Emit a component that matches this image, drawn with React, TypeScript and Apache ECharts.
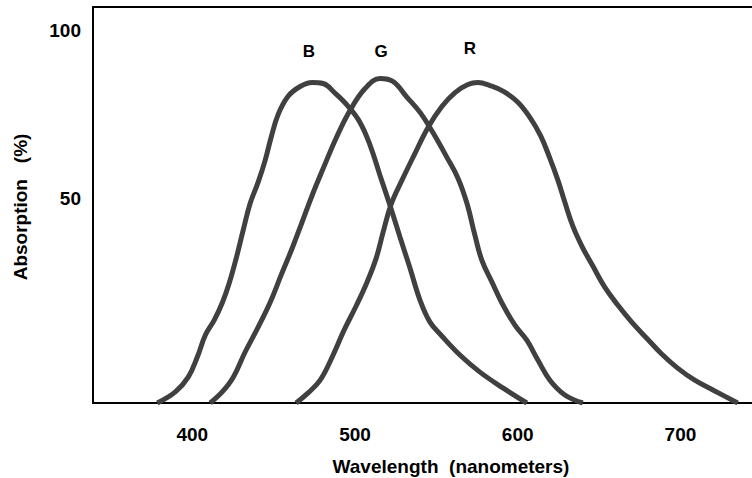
import React, { useEffect, useRef } from "react";
import * as echarts from "echarts";

// Wavelength (nm) and absorption (%)
const wavelengthB = [378.5, 389.6, 397.5, 403.1, 408.0, 413.5, 418.4, 422.7, 427.0, 431.3, 435.6, 440.5, 444.8, 448.5, 452.8, 458.9, 466.3, 473.7, 480.4, 487.8, 495.8, 503.1, 509.3, 515.4, 521.5, 527.7, 533.8, 540.0, 546.1, 553.5, 564.5, 576.8, 590.9, 605.6];
const absorptionB = [-11, -7.7, -3.3, 2.7, 9.2, 13.7, 18.8, 24.7, 32.1, 40.5, 48.5, 54.8, 61.3, 68.2, 75.0, 80.4, 83.3, 84.5, 84.2, 81.3, 77.4, 72.6, 65.8, 56.8, 47.9, 38.4, 29.2, 19.6, 13.1, 8.9, 3.3, -1.8, -6.5, -11];

const wavelengthG = [411.0, 418.4, 425.2, 432.5, 440.5, 447.9, 454.6, 461.4, 467.5, 473.7, 481.0, 488.4, 497.0, 506.2, 515.4, 523.4, 532.0, 540.0, 547.9, 556.5, 563.3, 568.8, 573.7, 578.0, 584.2, 590.3, 598.3, 605.6, 612.4, 619.8, 629.0, 640.0];
const absorptionG = [-11, -7.7, -3.3, 4.2, 11.6, 19.0, 27.1, 35.1, 42.9, 50.9, 59.5, 67.9, 76.2, 82.7, 85.7, 84.8, 80.1, 75.6, 69.6, 62.2, 56.0, 48.5, 39.0, 31.5, 25.0, 18.8, 12.2, 7.7, 1.8, -4.2, -8.6, -11];

const wavelengthR = [463.8, 471.2, 478.6, 486.0, 493.3, 500.7, 507.4, 513.0, 517.3, 522.2, 528.9, 536.3, 544.9, 553.5, 561.5, 569.4, 575.6, 583.0, 591.5, 600.1, 607.5, 614.2, 619.8, 624.7, 629.0, 633.9, 639.5, 646.2, 653.5, 661.5, 670.1, 679.3, 688.5, 698.3, 708.8, 721.1, 735.2];
const absorptionR = [-11, -8.0, -4.2, 2.7, 10.7, 17.9, 25.0, 32.1, 39.9, 48.2, 55.4, 62.8, 71.1, 77.4, 81.5, 83.9, 84.5, 83.6, 81.8, 78.6, 74.1, 68.5, 61.9, 55.4, 48.8, 41.7, 35.7, 29.8, 23.5, 18.2, 13.1, 8.3, 3.6, -0.6, -4.2, -7.4, -11];

const xTicks = [400, 500, 600, 700];
const yTicks = [50, 100];
const curveNames = ["B", "G", "R"];

const FONT = "'Liberation Sans', Arial, sans-serif";
const LINE = "#404040";

export default function App() {
  const ref = useRef<HTMLDivElement>(null);
  useEffect(() => {
    if (!ref.current) return;
    const chart = echarts.init(ref.current, null, { renderer: "svg" });
    const pairs = (w: number[], a: number[]) => w.map((x, i) => [x, a[i]]);
    const series = [
      pairs(wavelengthB, absorptionB),
      pairs(wavelengthG, absorptionG),
      pairs(wavelengthR, absorptionR),
    ].map((d, i) => ({
      name: curveNames[i],
      type: "line",
      data: d,
      smooth: 0.4,
      symbol: "none",
      lineStyle: { color: LINE, width: 5 },
      z: 1,
    }));
    const labelStyle = { fontFamily: FONT, fontWeight: "bold", fontSize: 19, color: "#000" };
    chart.setOption({
      animation: false,
      backgroundColor: "#fff",
      grid: { left: 93, right: 0, top: 7, bottom: 75 },
      xAxis: [
        {
          type: "value",
          min: 339,
          max: 744,
          axisLine: { show: true, onZero: false, lineStyle: { color: "#000", width: 2 } },
          axisTick: { show: false },
          splitLine: { show: false },
          axisLabel: { ...labelStyle, margin: 22, customValues: xTicks },
        },
        {
          type: "value",
          position: "top",
          min: 339,
          max: 744,
          axisLine: { show: true, onZero: false, lineStyle: { color: "#000", width: 2 } },
          axisTick: { show: false },
          splitLine: { show: false },
          axisLabel: { show: false },
        },
      ],
      yAxis: {
        type: "value",
        min: -11,
        max: 107,
        axisLine: { show: true, onZero: false, lineStyle: { color: "#000", width: 2 } },
        axisTick: { show: false },
        splitLine: { show: false },
        axisLabel: { ...labelStyle, margin: 12, customValues: yTicks },
      },
      series,
      graphic: [
        { type: "text", x: 309, y: 51, style: { text: "B", font: `bold 17px ${FONT}`, fill: "#000", align: "center", verticalAlign: "middle" } },
        { type: "text", x: 381, y: 51, style: { text: "G", font: `bold 17px ${FONT}`, fill: "#000", align: "center", verticalAlign: "middle" } },
        { type: "text", x: 470, y: 48, style: { text: "R", font: `bold 17px ${FONT}`, fill: "#000", align: "center", verticalAlign: "middle" } },
        { type: "text", x: 451, y: 466, style: { text: "Wavelength  (nanometers)", font: `bold 19px ${FONT}`, fill: "#000", align: "center", verticalAlign: "middle" } },
        { type: "text", x: 20, y: 207, rotation: Math.PI / 2, style: { text: "Absorption   (%)", font: `bold 19px ${FONT}`, fill: "#000", align: "center", verticalAlign: "middle" } },
      ],
    });
    return () => chart.dispose();
  }, []);
  return <div ref={ref} style={{ position: "fixed", left: 0, top: 0, width: 752, height: 478 }} />;
}
